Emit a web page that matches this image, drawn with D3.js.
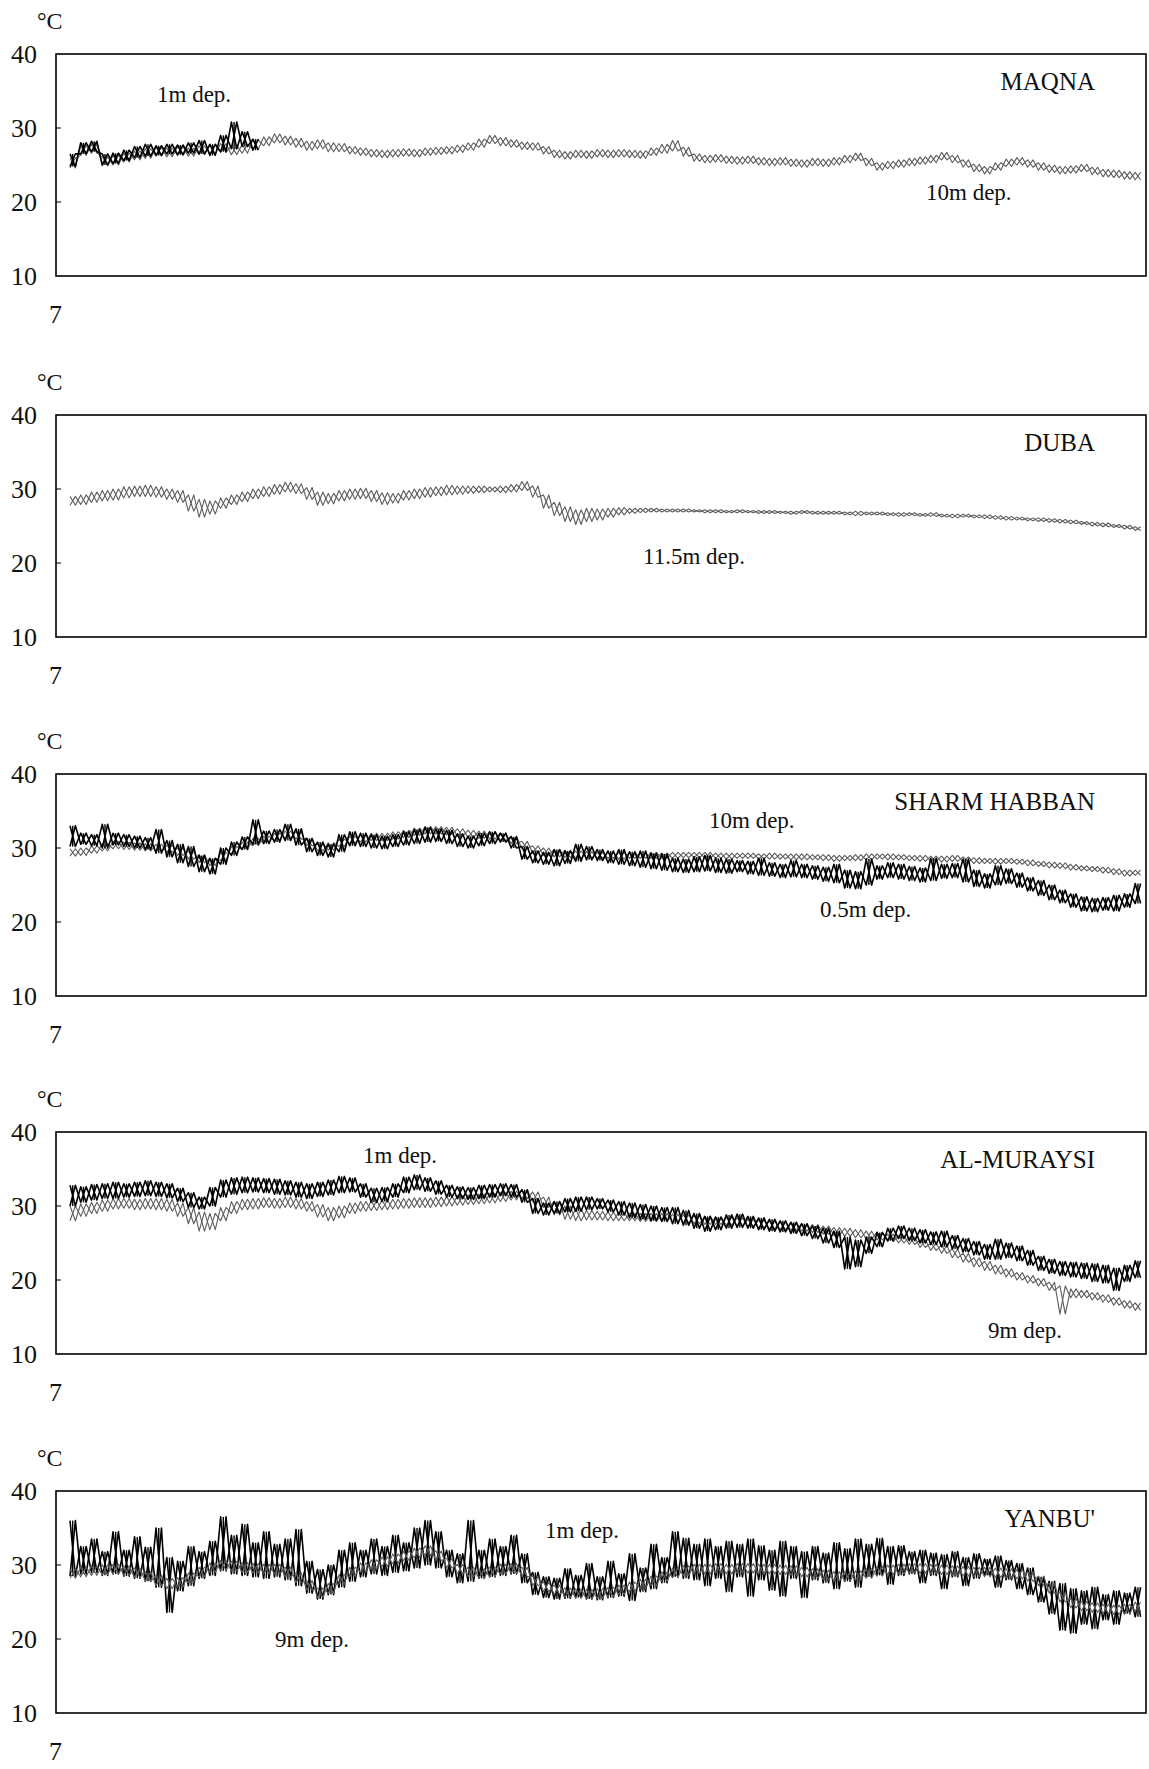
<!DOCTYPE html>
<html>
<head>
<meta charset="utf-8">
<script src="https://cdn.jsdelivr.net/npm/d3@7"></script>
<style>
  body { margin: 0; background: #fff; }
  text { font-family: "Liberation Serif", "Times New Roman", serif; fill: #111; }
</style>
</head>
<body>
<svg id="chart"></svg>
<script>
// daily min / max water temperature (°C), one value per day from the start of July
var stations = ["MAQNA", "DUBA", "SHARM HABBAN", "AL-MURAYSI", "YANBU'"];
var yTicks = [10, 20, 30, 40];
var monthLabel = "7";

// MAQNA 10m
var maqna10Lo = [24.6,26.3,26.6,24.9,25.0,25.4,25.7,25.9,26.2,26.1,26.3,26.2,26.4,26.5,26.7,26.4,26.6,27.1,27.6,28.0,
  27.7,27.4,27.0,27.2,26.8,26.8,26.5,26.3,26.1,26.0,26.1,26.2,26.1,26.3,26.4,26.5,26.7,27.0,27.4,27.9,
  27.6,27.4,27.1,27.0,26.5,26.0,25.8,26.0,25.9,26.1,26.0,26.1,26.0,25.9,26.3,26.6,26.9,26.2,25.5,25.3,
  25.4,25.2,25.1,25.2,25.0,24.9,25.0,24.8,24.7,24.9,24.8,25.0,25.3,25.6,24.9,24.3,24.5,24.7,24.9,25.1,
  25.3,25.7,25.3,24.7,24.1,23.8,24.3,24.8,25.0,24.7,24.3,24.0,23.8,23.9,24.1,23.7,23.4,23.3,23.1,23.0];
var maqna10Hi = [25.9,27.6,27.8,26.1,26.3,26.6,26.9,27.2,27.4,27.3,27.5,27.3,27.6,27.7,27.9,27.6,27.8,28.4,28.8,29.2,
  28.9,28.6,28.2,28.4,28.0,27.9,27.5,27.3,27.1,27.0,27.1,27.2,27.1,27.3,27.4,27.5,27.7,28.0,28.5,29.0,
  28.7,28.4,28.1,28.0,27.5,27.0,26.8,27.0,26.9,27.1,27.0,27.1,27.0,26.9,27.3,27.8,28.3,27.4,26.5,26.3,
  26.4,26.2,26.1,26.2,26.0,25.9,26.0,25.8,25.7,25.9,25.8,26.0,26.3,26.6,25.9,25.3,25.5,25.7,25.9,26.1,
  26.3,26.7,26.3,25.7,25.1,24.8,25.3,25.8,26.0,25.7,25.3,25.0,24.8,24.9,25.1,24.7,24.4,24.3,24.1,24.0];
// MAQNA 1m (short record)
var maqna1Lo = [24.8,26.5,26.8,25.0,25.2,25.6,26.0,26.2,26.3,26.5,26.4,26.6,26.5,26.3,26.8,27.2,27.5,27.0];
var maqna1Hi = [26.5,28.0,28.2,26.5,26.6,27.0,27.5,27.8,27.6,27.8,27.7,28.0,28.3,27.8,29.0,30.8,29.5,28.5];

// DUBA 11.5m
var duba11Lo = [27.8,27.9,28.2,28.4,28.5,28.8,29.0,29.0,28.9,28.6,28.2,27.0,26.2,26.6,27.4,27.9,28.3,28.7,29.0,29.3,
  29.6,29.4,28.6,27.8,28.0,28.4,28.6,28.7,28.3,27.9,28.1,28.5,28.7,28.9,29.1,29.2,29.3,29.4,29.5,29.6,
  29.5,29.6,29.8,28.9,27.4,26.4,25.6,25.2,25.6,25.8,26.2,26.5,26.7,26.8,26.9,26.9,26.9,26.9,26.9,26.8,
  26.8,26.8,26.8,26.8,26.7,26.7,26.7,26.6,26.7,26.6,26.6,26.6,26.5,26.4,26.5,26.5,26.4,26.3,26.4,26.3,
  26.3,26.2,26.1,26.2,26.1,26.0,25.9,25.8,25.8,25.7,25.6,25.5,25.4,25.3,25.2,25.0,24.9,24.8,24.6,24.4];
var duba11Hi = [29.0,29.2,29.6,29.8,30.0,30.3,30.4,30.5,30.3,30.0,29.8,29.2,28.6,28.4,28.8,29.2,29.6,30.0,30.3,30.6,
  30.9,30.7,30.2,29.6,29.4,29.8,30.0,30.1,29.8,29.5,29.4,29.8,30.0,30.2,30.3,30.5,30.4,30.4,30.4,30.3,
  30.4,30.6,31.0,30.4,29.2,28.2,27.6,27.2,27.4,27.3,27.4,27.5,27.4,27.4,27.4,27.3,27.3,27.3,27.2,27.2,
  27.2,27.1,27.2,27.1,27.1,27.1,27.0,27.0,27.1,27.0,27.0,27.0,26.9,27.0,26.9,26.9,26.8,26.8,26.8,26.7,
  26.8,26.6,26.6,26.6,26.5,26.5,26.4,26.3,26.2,26.1,26.1,26.0,25.9,25.8,25.6,25.5,25.4,25.2,25.1,24.9];

// SHARM HABBAN 10m
var sharm10Lo = [28.9,29.0,29.3,29.6,29.9,29.8,29.7,29.6,29.5,29.4,29.0,28.5,28.0,27.6,28.3,29.2,29.8,30.3,30.6,31.0,
  31.3,31.2,30.3,29.6,29.7,30.2,30.6,30.8,31.0,31.0,31.2,31.4,31.7,31.9,31.9,31.8,31.6,31.4,31.3,31.2,
  31.0,30.6,29.9,29.3,29.0,28.8,28.7,28.6,28.6,28.6,28.6,28.5,28.6,28.6,28.6,28.6,28.6,28.7,28.7,28.6,
  28.6,28.5,28.6,28.6,28.5,28.5,28.5,28.4,28.4,28.4,28.3,28.2,28.3,28.3,28.4,28.5,28.4,28.4,28.3,28.2,
  28.2,28.1,28.2,28.1,27.9,27.9,27.8,27.9,27.8,27.6,27.5,27.3,27.2,27.0,26.9,26.8,26.6,26.4,26.2,26.3];
var sharm10Hi = [29.9,30.0,30.3,30.6,30.9,30.8,30.7,30.6,30.5,30.4,30.0,29.6,29.1,28.6,29.4,30.2,30.8,31.3,31.6,32.0,
  32.3,32.2,31.3,30.6,30.7,31.2,31.6,31.8,32.0,32.0,32.2,32.4,32.7,32.9,32.9,32.8,32.6,32.4,32.3,32.2,
  32.0,31.6,30.9,30.3,30.0,29.8,29.7,29.6,29.5,29.4,29.4,29.4,29.4,29.3,29.4,29.3,29.4,29.4,29.4,29.4,
  29.3,29.3,29.3,29.3,29.2,29.3,29.2,29.2,29.2,29.1,29.1,29.0,29.0,29.1,29.2,29.2,29.2,29.1,29.0,29.0,
  28.9,28.9,29.0,28.8,28.7,28.6,28.6,28.6,28.5,28.4,28.2,28.1,28.0,27.8,27.6,27.5,27.4,27.2,27.0,27.0];
// SHARM HABBAN 0.5m
var sharm05Lo = [30.2,30.5,30.3,30.0,30.4,30.2,30.0,29.8,29.3,28.8,28.0,27.5,26.8,26.5,27.8,29.0,29.8,30.5,30.6,30.8,
  31.0,30.4,29.5,29.0,28.8,29.5,30.3,30.2,30.0,29.9,30.2,30.4,30.6,30.8,30.9,30.6,30.2,30.0,30.3,30.6,
  30.8,30.0,28.5,28.0,27.8,27.6,27.9,28.2,28.4,28.3,28.0,27.8,27.6,27.4,27.2,27.0,26.8,26.7,26.8,26.9,
  26.7,26.6,26.8,26.5,26.3,26.2,26.0,26.1,26.0,25.8,25.5,25.3,24.6,24.5,25.0,25.8,26.0,25.8,25.6,25.4,
  25.6,25.9,26.0,25.4,24.8,24.6,25.0,25.2,24.7,24.2,23.6,23.0,22.6,22.0,21.5,21.4,21.6,21.5,22.0,22.5];
var sharm05Hi = [33.0,32.0,31.8,33.2,32.0,31.8,31.6,31.4,32.5,31.0,30.5,30.2,29.0,28.6,30.0,30.8,31.5,33.8,32.3,32.5,
  33.2,32.6,31.3,30.8,30.5,31.8,32.2,32.0,31.8,31.6,31.8,32.2,32.5,32.8,32.6,32.4,31.9,31.6,32.0,32.2,
  32.0,31.5,30.2,29.6,29.4,29.8,29.6,30.5,30.2,29.8,29.6,29.8,29.5,29.6,29.3,29.2,28.6,28.5,28.8,29.0,
  28.6,28.5,28.3,28.2,28.6,28.0,27.8,28.3,27.8,27.6,27.4,27.8,27.0,26.8,28.5,27.6,28.0,27.8,27.5,27.3,
  28.6,27.8,27.9,28.5,27.0,26.5,27.6,27.2,26.6,26.0,25.6,25.0,24.3,23.8,23.4,23.2,23.3,23.6,23.8,25.2];

// AL-MURAYSI 9m
var muraysi9Lo = [28.0,28.6,29.0,29.3,29.6,29.7,29.5,29.6,29.5,29.3,28.6,27.6,26.6,26.8,28.0,29.0,29.5,29.6,29.8,29.7,
  29.8,29.6,29.3,28.5,28.0,28.4,29.0,29.3,29.4,29.5,29.6,29.7,29.8,29.8,29.9,30.0,30.1,30.2,30.3,30.4,
  30.6,30.8,31.0,30.6,29.8,28.8,28.2,28.0,28.1,28.1,28.0,28.0,28.0,27.9,27.9,27.9,27.8,27.7,27.6,27.5,
  27.5,27.4,27.3,27.2,27.0,26.9,26.8,26.7,26.6,26.4,26.2,26.0,25.9,25.7,25.5,25.4,25.2,25.0,24.8,24.4,
  24.0,23.6,23.0,22.4,21.8,21.3,20.8,20.4,20.0,19.6,19.2,18.6,15.4,17.6,17.6,17.3,17.0,16.6,16.2,15.9];
var muraysi9Hi = [30.0,30.3,30.5,30.8,31.0,31.0,30.9,31.0,31.0,30.9,30.4,29.8,29.2,29.0,29.8,30.6,30.9,31.0,31.1,31.0,
  31.2,31.0,30.6,30.2,29.8,30.0,30.4,30.6,30.7,30.8,30.9,31.0,31.1,31.1,31.2,31.3,31.4,31.5,31.6,31.7,
  31.8,32.0,32.2,31.9,31.2,30.6,30.0,29.6,29.4,29.3,29.2,29.1,29.0,29.0,29.0,29.0,28.9,28.8,28.7,28.6,
  28.5,28.5,28.4,28.2,28.1,28.0,27.9,27.8,27.6,27.5,27.3,27.1,27.0,26.8,26.6,26.5,26.2,26.0,25.8,25.4,
  25.0,24.7,24.2,23.6,23.0,22.5,22.0,21.5,21.0,20.6,20.2,19.7,19.2,18.8,18.6,18.3,18.0,17.6,17.2,16.9];
// AL-MURAYSI 1m
var muraysi1Lo = [30.0,30.5,30.8,31.0,31.0,31.2,31.3,31.4,31.3,31.1,30.6,29.8,29.6,30.0,31.2,31.6,31.8,31.9,31.8,31.6,
  31.5,31.2,31.0,31.3,31.5,31.8,31.9,31.2,30.5,30.6,31.2,31.8,32.2,32.0,31.6,31.2,31.0,30.9,31.0,31.2,
  31.4,31.2,30.5,29.0,28.8,29.0,29.2,29.3,29.5,29.6,29.2,28.8,28.4,28.2,28.0,27.9,27.6,27.4,27.0,26.6,
  26.8,27.0,27.1,27.0,26.8,26.6,26.5,26.3,26.0,25.6,25.0,24.4,21.5,21.8,23.6,24.5,25.3,25.6,25.3,25.0,
  24.8,24.5,24.2,23.8,23.4,22.8,22.8,23.0,22.6,22.0,21.3,20.9,20.6,20.4,20.2,19.8,19.6,18.6,19.8,20.3];
var muraysi1Hi = [32.8,32.6,32.9,33.0,33.2,33.0,33.2,33.4,33.2,33.0,32.4,31.8,31.2,32.5,33.5,33.8,33.9,33.8,33.7,33.6,
  33.4,33.2,33.0,33.2,33.5,34.0,33.8,33.0,32.4,32.5,33.0,33.9,34.2,33.8,33.4,32.8,32.6,32.5,32.8,32.9,
  33.0,32.9,32.2,31.0,30.4,30.6,31.0,31.2,31.2,31.0,30.8,30.6,30.4,30.2,30.0,29.8,29.8,29.4,29.0,28.6,
  28.5,28.8,28.9,28.6,28.4,28.2,28.0,27.8,27.6,27.3,27.0,26.6,25.8,25.4,25.8,26.4,27.0,27.3,27.0,26.8,
  26.5,26.6,26.0,25.6,25.2,24.8,25.5,25.0,24.6,24.0,23.2,22.8,22.5,22.4,22.3,22.2,22.0,21.6,22.0,22.6];

// YANBU' 9m
var yanbu9Lo = [28.2,28.4,28.6,28.7,28.8,28.6,28.3,27.8,27.2,26.8,27.0,27.6,28.4,29.0,29.3,29.2,29.0,28.9,28.8,28.8,
  28.4,27.6,26.6,25.6,26.2,27.4,28.4,29.0,29.4,29.8,30.2,30.6,31.0,31.3,30.6,29.6,28.8,28.4,28.2,28.4,
  28.8,28.9,28.4,27.2,26.4,26.0,25.6,25.5,25.4,25.5,25.7,26.0,26.4,26.8,27.2,27.8,28.3,28.6,28.8,28.8,
  28.9,28.8,28.9,28.9,28.8,28.8,28.7,28.6,28.4,28.2,28.0,27.8,27.8,27.9,28.2,28.5,28.7,28.8,28.9,28.9,
  28.8,28.7,28.6,28.5,28.4,28.4,28.3,28.2,28.1,27.8,27.2,26.2,25.0,24.2,23.8,23.6,23.4,23.3,23.4,23.7];
var yanbu9Hi = [29.5,29.7,29.9,30.0,30.1,29.9,29.6,29.1,28.6,28.2,28.3,28.9,29.7,30.3,30.6,30.5,30.3,30.2,30.1,30.1,
  29.7,28.9,27.9,26.9,27.5,28.7,29.7,30.3,30.7,31.1,31.5,31.9,32.3,32.6,31.9,30.9,30.1,29.7,29.5,29.7,
  30.1,30.2,29.7,28.5,27.7,27.3,26.9,26.8,26.7,26.8,27.0,27.3,27.7,28.1,28.5,29.1,29.6,29.9,30.1,30.1,
  30.2,30.1,30.2,30.2,30.1,30.1,30.0,29.9,29.7,29.5,29.3,29.1,29.1,29.2,29.5,29.8,30.0,30.1,30.2,30.2,
  30.1,30.0,29.9,29.8,29.7,29.7,29.6,29.5,29.4,29.1,28.5,27.5,26.3,25.5,25.1,24.9,24.7,24.6,24.7,25.0];
// YANBU' 1m
var yanbu1Lo = [28.5,28.8,29.0,28.6,28.8,28.5,28.2,27.8,27.0,23.6,26.5,27.2,28.2,28.6,29.2,28.8,28.6,28.4,28.2,28.4,
  28.0,27.2,26.2,25.4,26.0,27.0,27.8,28.4,28.8,28.6,29.0,29.2,29.6,30.0,29.6,28.4,27.6,27.8,28.2,28.4,
  28.6,28.8,27.6,26.0,25.6,25.4,25.5,25.6,25.4,25.3,25.6,25.8,25.2,26.4,26.8,27.6,28.4,28.2,28.0,27.2,
  28.2,26.4,28.4,25.8,28.0,26.6,25.8,28.2,25.6,28.0,27.6,26.8,27.8,27.0,28.4,28.6,27.4,28.6,28.8,27.6,
  28.6,26.8,28.4,27.2,28.2,28.6,27.0,28.0,26.8,26.0,25.0,23.4,21.2,20.8,22.0,21.4,22.6,22.0,23.4,23.0];
var yanbu1Hi = [36.0,32.5,33.5,31.8,34.5,32.0,33.8,32.4,35.0,31.0,30.5,32.5,31.8,33.2,36.5,34.0,35.5,33.0,34.5,32.8,
  33.5,34.8,30.5,29.4,30.0,32.0,33.0,32.0,33.5,32.5,34.0,33.0,35.0,36.0,34.5,32.0,31.5,36.0,32.0,33.5,
  32.5,34.0,31.5,29.0,28.4,28.2,29.5,28.6,30.2,28.4,30.5,28.8,31.5,29.6,32.8,31.0,34.5,33.6,32.8,33.5,
  32.5,33.2,32.8,33.5,32.6,32.0,33.2,32.5,31.8,32.5,31.6,33.0,32.2,33.5,32.8,33.6,32.5,32.6,31.8,32.0,
  31.6,31.4,31.8,31.0,31.5,30.8,31.2,30.6,30.2,29.6,28.4,27.8,27.5,26.8,26.5,27.0,26.0,26.5,26.2,27.0];

var width = 1149, height = 1769;
var svg = d3.select('#chart').attr('width', width).attr('height', height);

var boxLeft = 56, boxRight = 1146, panelH = 222;
var x = d3.scaleLinear().domain([0, 100]).range([70, 1146]);

var panels = [
    {name: stations[0], top: 54,
     series: [{lo: maqna10Lo, hi: maqna10Hi, kind: 'gray'}, {lo: maqna1Lo, hi: maqna1Hi, kind: 'black'}],
     labels: [{t: '1m dep.', x: 157, dy: 48}, {t: '10m dep.', x: 926, dy: 146}]},
    {name: stations[1], top: 415,
     series: [{lo: duba11Lo, hi: duba11Hi, kind: 'gray'}],
     labels: [{t: '11.5m dep.', x: 643, dy: 149}]},
    {name: stations[2], top: 774,
     series: [{lo: sharm10Lo, hi: sharm10Hi, kind: 'gray'}, {lo: sharm05Lo, hi: sharm05Hi, kind: 'black'}],
     labels: [{t: '10m dep.', x: 709, dy: 54}, {t: '0.5m dep.', x: 820, dy: 143}]},
    {name: stations[3], top: 1132,
     series: [{lo: muraysi9Lo, hi: muraysi9Hi, kind: 'gray'}, {lo: muraysi1Lo, hi: muraysi1Hi, kind: 'black'}],
     labels: [{t: '1m dep.', x: 363, dy: 31}, {t: '9m dep.', x: 988, dy: 206}]},
    {name: stations[4], top: 1491,
     series: [{lo: yanbu1Lo, hi: yanbu1Hi, kind: 'black'}, {lo: yanbu9Lo, hi: yanbu9Hi, kind: 'gray'}],
     labels: [{t: '1m dep.', x: 545, dy: 47}, {t: '9m dep.', x: 275, dy: 156}]}
];

panels.forEach(function (p) {
    var y = d3.scaleLinear().domain([10, 40]).range([p.top + panelH, p.top]);
    var g = svg.append('g').attr('class', 'panel');

    var line = d3.line()
        .x(function (d) { return x(d[0]); })
        .y(function (d) { return y(d[1]); });

    p.series.forEach(function (s) {
        // each day: the minimum then the maximum, half a day apart (and the crossing stroke)
        var zig = [], zag = [];
        s.lo.forEach(function (v, i) {
            zig.push([i, v]); zig.push([i + 0.5, s.hi[i]]);
            zag.push([i, s.hi[i]]); zag.push([i + 0.5, v]);
        });
        var col = s.kind === 'gray' ? '#5c5c5c' : '#000';
        var sw = s.kind === 'gray' ? 1.1 : 1.6;
        [zig, zag].forEach(function (pts) {
            g.append('path').attr('d', line(pts))
                .attr('fill', 'none').attr('stroke', col).attr('stroke-width', sw)
                .attr('stroke-linejoin', 'round');
        });
        if (s.kind === 'black') {
            // solid daily range strokes
            g.selectAll(null).data(s.lo).enter().append('line')
                .attr('x1', function (d, i) { return x(i + 0.25); })
                .attr('x2', function (d, i) { return x(i + 0.25); })
                .attr('y1', function (d) { return y(d); })
                .attr('y2', function (d, i) { return y(s.hi[i]); })
                .attr('stroke', '#000').attr('stroke-width', 1.4);
        }
    });

    // frame
    g.append('rect')
        .attr('x', boxLeft).attr('y', p.top)
        .attr('width', boxRight - boxLeft).attr('height', panelH)
        .attr('fill', 'none').attr('stroke', '#000').attr('stroke-width', 1.6);

    // y axis: labels outside, short ticks inside
    var yAxis = d3.axisLeft(y).tickValues(yTicks).tickSize(0).tickPadding(19);
    var ax = g.append('g').attr('transform', 'translate(' + boxLeft + ',0)').call(yAxis);
    ax.select('.domain').remove();
    ax.selectAll('text')
        .attr('font-size', 26)
        .attr('font-family', '"Liberation Serif", "Times New Roman", serif')
        .attr('fill', '#111');
    g.selectAll('.inner-tick')
        .data(yTicks.slice(1, 3)).enter()
        .append('line')
        .attr('x1', boxLeft).attr('x2', boxLeft + 5)
        .attr('y1', function (d) { return y(d); })
        .attr('y2', function (d) { return y(d); })
        .attr('stroke', '#000').attr('stroke-width', 1);

    g.append('text').attr('x', 37).attr('y', p.top - 25)
        .attr('font-size', 24).text('°C');
    g.append('text').attr('x', 49).attr('y', p.top + panelH + 47)
        .attr('font-size', 26).text(monthLabel);

    g.append('text').attr('x', 1095).attr('y', p.top + 36)
        .attr('text-anchor', 'end').attr('font-size', 25).text(p.name);

    g.selectAll('.depth')
        .data(p.labels).enter()
        .append('text')
        .attr('class', 'depth')
        .attr('x', function (d) { return d.x; })
        .attr('y', function (d) { return p.top + d.dy; })
        .attr('font-size', 23)
        .text(function (d) { return d.t; });
});
</script>
</body>
</html>
